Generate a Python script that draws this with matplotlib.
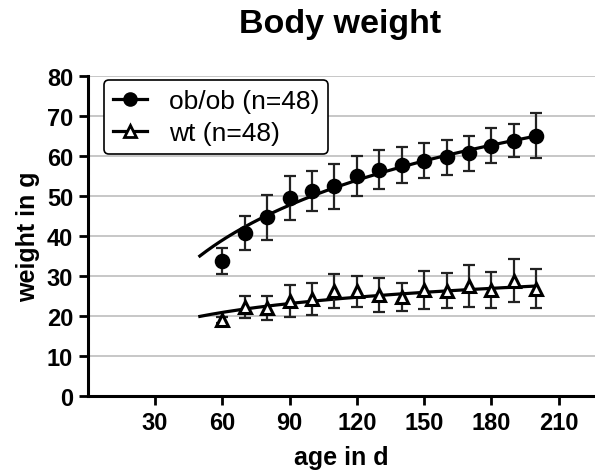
import matplotlib
matplotlib.use("Agg")
import matplotlib.pyplot as plt
import numpy as np

plt.rcParams['font.family'] = ['Liberation Sans', 'DejaVu Sans']

# age in days
age = [60, 70, 80, 90, 100, 110, 120, 130, 140, 150, 160, 170, 180, 190, 200]

# mean weight and SD, ob/ob
obob_mean = [33.7, 40.7, 44.7, 49.4, 51.2, 52.4, 54.9, 56.6, 57.8, 58.8, 59.7, 60.7, 62.6, 63.8, 65.1]
obob_sd = [3.3, 4.2, 5.6, 5.5, 5.0, 5.6, 5.0, 4.8, 4.5, 4.4, 4.4, 4.4, 4.4, 4.1, 5.7]

# mean weight and SD, wt
wt_mean = [19.0, 22.3, 22.0, 23.8, 24.3, 26.2, 26.2, 25.2, 24.7, 26.5, 26.3, 27.5, 26.5, 28.8, 26.8]
wt_sd = [0.8, 2.8, 3.0, 4.0, 4.0, 4.3, 3.9, 4.2, 3.5, 4.7, 4.4, 5.2, 4.5, 5.4, 4.9]

# fitted curves y = a + b*ln(x)
obob_fit = (-49.66, 21.64)
wt_fit = (-1.54, 5.48)
fit_range = (50, 200)

xticks = [30, 60, 90, 120, 150, 180, 210]
yticks = [0, 10, 20, 30, 40, 50, 60, 70, 80]

fig = plt.figure(figsize=(5.95, 4.77), dpi=100)
ax = fig.add_axes([87.7 / 595, 1 - 397 / 477, 1 - 87.7 / 595, 320 / 477])

xfit = np.linspace(fit_range[0], fit_range[1], 200)

series = [
    (obob_mean, obob_sd, obob_fit, 'o', 'black', 'ob/ob (n=48)'),
    (wt_mean, wt_sd, wt_fit, '^', 'white', 'wt (n=48)'),
]
for mean, sd, (a, b), mk, fc, lab in series:
    ax.plot(xfit, a + b * np.log(xfit), color='black', lw=2.3, zorder=3)
    ax.errorbar(age, mean, yerr=sd, fmt='none', ecolor='#222222',
                elinewidth=1.6, capsize=4.5, capthick=1.6, zorder=4)
    ax.plot(age, mean, ls='none', marker=mk, ms=9, mfc=fc, mec='black',
            mew=2.2, zorder=5)
    # legend proxy
    ax.plot([], [], color='black', lw=2.3, marker=mk, ms=8.5, mfc=fc,
            mec='black', mew=2.0, label=lab)

ax.set_xlim(0, 226.2)
ax.set_ylim(0, 80)
ax.set_xticks(xticks)
ax.set_yticks(yticks)

ax.yaxis.grid(True, color='#bdbdbd', lw=1.2)
ax.set_axisbelow(True)
for s in ['top', 'right']:
    ax.spines[s].set_visible(False)
for s in ['left', 'bottom']:
    ax.spines[s].set_linewidth(2.2)

ax.tick_params(axis='both', width=2.0, length=6.5, pad=4, labelsize=17)
for t in ax.get_xticklabels() + ax.get_yticklabels():
    t.set_fontweight('bold')

ax.set_xlabel('age in d', fontsize=18, fontweight='bold', labelpad=8)
ax.set_ylabel('weight in g', fontsize=18, fontweight='bold', labelpad=5)
fig.text(340 / 595, 1 - 25 / 477, 'Body weight', fontsize=24.5,
         fontweight='bold', ha='center', va='center')

leg = ax.legend(loc='upper left', bbox_to_anchor=(0.032, 0.988), borderaxespad=0,
                fontsize=19, handlelength=1.3, handletextpad=0.8,
                labelspacing=0.3, frameon=True, fancybox=True,
                borderpad=0.35)
leg.get_frame().set_edgecolor('black')
leg.get_frame().set_linewidth(1.2)
leg.get_frame().set_alpha(1)

fig.savefig('out.png', dpi=100)
